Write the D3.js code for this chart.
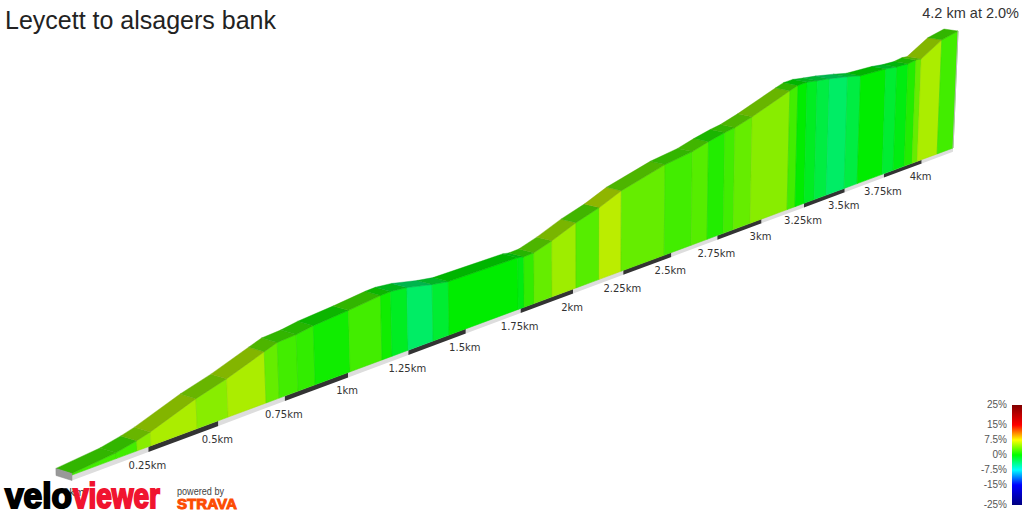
<!DOCTYPE html>
<html>
<head>
<meta charset="utf-8">
<script src="https://cdn.jsdelivr.net/npm/d3@7"></script>
<style>
  html, body { margin: 0; padding: 0; background: #fff; overflow: hidden; }
  svg { display: block; }
</style>
</head>
<body>
<div id="profile"></div>
<script>
const chartTitle = "Leycett to alsagers bank";
const chartSummary = "4.2 km at 2.0%";

// segment boundaries along the climb, km
const segmentKm = [-0.009, 0.139, 0.211, 0.259, 0.423, 0.536, 0.678, 0.728, 0.801, 0.868, 1.008, 1.139, 1.181, 1.249,
  1.356, 1.426, 1.738, 1.766, 1.813, 1.898, 2.014, 2.128, 2.238, 2.462, 2.606, 2.693, 2.782, 2.838, 2.934,
  3.149, 3.196, 3.25, 3.311, 3.385, 3.496, 3.578, 3.738, 3.81, 3.883, 3.935, 3.97, 4.105, 4.215];

// height above the start at each boundary, m
const segmentElevation = [0.8, 2.9, 5.1, 7, 15.5, 20.1, 27.3, 29.8, 30.5, 32.1, 33.8, 35.9, 36.2, 35.3,
  32.1, 30.6, 30.5, 29.8, 30.1, 33.5, 39.4, 43.8, 49.6, 56.9, 59.5, 62.5, 65, 66.1, 69.6,
  79, 80.9, 81.2, 80, 78.8, 76.3, 74.1, 73.4, 72.3, 72, 73, 72.6, 81.6, 84.4];

// gradient of each segment, %
const segmentGradient = [2.1, 2.1, 4.3, 5.4, 4.3, 5.4, 3.2, 2.1, 1.6, 0.5, 2.1, 0.5, -1.1, -3.2,
  -1.6, 0, -0.5, 1.6, 3.2, 5, 2.7, 5.9, 3.2, 2.1, 2.7, 1.1, 2.1, 3.2,
  4.3, 2.1, 0, -1.1, -2.1, -3.2, -2.1, 0, -1.6, -0.5, 1.1, 3.2, 5.4, 2.1];

const tickKm = [0, 0.25, 0.5, 0.75, 1, 1.25, 1.5, 1.75, 2, 2.25, 2.5, 2.75, 3, 3.25, 3.5, 3.75, 4];
const tickLabels = ["0km", "0.25km", "0.5km", "0.75km", "1km", "1.25km", "1.5km", "1.75km", "2km",
  "2.25km", "2.5km", "2.75km", "3km", "3.25km", "3.5km", "3.75km", "4km"];

const legendStops = [-25, -15, -7.5, 0, 7.5, 15, 25];
const legendColors = ["#000080", "#0000ff", "#00ffff", "#00ff00", "#ffff00", "#ff0000", "#800000"];

/////////////////////
// Svg and perspective
/////////////////////
const svg = d3.select("#profile")
  .append("svg")
  .attr("width", 1024)
  .attr("height", 512)
  .attr("viewBox", "0 0 1024 512");

const startKm = segmentKm[0];
const endKm = segmentKm[segmentKm.length - 1];
const perspective = 0.1075;
const depth = km => km / (1 + perspective * km);
const shrink = km => 1 / (1 + perspective * km);

const xScale = d3.scaleLinear().domain([depth(startKm), depth(endKm)]).range([72, 953]);
const yScale = d3.scaleLinear().domain([depth(startKm), depth(endKm)]).range([475, 148]);
const heightScale = d3.scaleLinear().domain([0, 84.4]).range([0, 170]);
const stripDx = d3.scaleLinear().domain([0, endKm]).range([-16, -14]);
const stripDy = d3.scaleLinear().domain([0, endKm]).range([-5, -2]);

const baseAt = km => [xScale(depth(km)), yScale(depth(km))];
const plinthAt = km => [xScale(depth(km)), yScale(depth(km)) + 5.5 * shrink(km)];

// verticals converge slightly towards the middle of the picture
const topAt = (km, elevation) => {
  const [x, y] = baseAt(km);
  const h = heightScale(elevation) * shrink(km);
  return [x + (x - 580) * h / 8700, y - h];
};
const backAt = (km, elevation) => {
  const [x, y] = topAt(km, elevation);
  return [x + stripDx(km), y + stripDy(km)];
};

const polygon = d3.line().curve(d3.curveLinearClosed);

const gradientColor = d3.scaleLinear().domain(legendStops).range(legendColors);
const shade = (gradient, factor) => {
  const c = d3.rgb(gradientColor(gradient));
  return d3.rgb(c.r * factor, c.g * factor, c.b * factor).formatHex();
};

const segments = segmentGradient.map((gradient, i) => ({
  gradient,
  km0: segmentKm[i],
  km1: segmentKm[i + 1],
  e0: segmentElevation[i],
  e1: segmentElevation[i + 1]
}));

/////////////////////
// Plinth with alternating quarter km marks
/////////////////////
const plinthEdges = d3.pairs([startKm].concat(tickKm.slice(1), endKm));
svg.append("g")
  .selectAll("path")
  .data(plinthEdges)
  .join("path")
  .attr("fill", (d, i) => i % 2 ? "#333333" : "#dddddd")
  .attr("d", ([a, b]) => polygon([baseAt(a), baseAt(b), plinthAt(b), plinthAt(a)]));

/////////////////////
// Side wall and road surface
/////////////////////
svg.append("g")
  .selectAll("path")
  .data(segments)
  .join("path")
  .attr("fill", d => shade(d.gradient, 0.93))
  .attr("stroke", d => shade(d.gradient, 0.86))
  .attr("stroke-width", 0.6)
  .attr("d", d => polygon([baseAt(d.km0), baseAt(d.km1), topAt(d.km1, d.e1), topAt(d.km0, d.e0)]));

svg.append("g")
  .selectAll("path")
  .data(segments)
  .join("path")
  .attr("fill", d => shade(d.gradient, 0.71))
  .attr("stroke", d => shade(d.gradient, 0.66))
  .attr("stroke-width", 0.4)
  .attr("d", d => polygon([topAt(d.km0, d.e0), topAt(d.km1, d.e1), backAt(d.km1, d.e1), backAt(d.km0, d.e0)]));

// grey end of the block at the start, thin edge at the far end
svg.append("path")
  .attr("fill", "#999999")
  .attr("stroke", "#8a8a8a")
  .attr("stroke-width", 0.5)
  .attr("d", polygon([
    topAt(startKm, segmentElevation[0]),
    plinthAt(startKm),
    [plinthAt(startKm)[0] + stripDx(0), plinthAt(startKm)[1] + stripDy(0)],
    backAt(startKm, segmentElevation[0])
  ]));

svg.append("line")
  .attr("x1", baseAt(endKm)[0])
  .attr("y1", baseAt(endKm)[1])
  .attr("x2", topAt(endKm, segmentElevation[segmentElevation.length - 1])[0])
  .attr("y2", topAt(endKm, segmentElevation[segmentElevation.length - 1])[1])
  .attr("stroke", "#bbbbbb")
  .attr("stroke-width", 1);

/////////////////////
// Distance labels
/////////////////////
svg.append("g")
  .selectAll("text")
  .data(tickKm)
  .join("text")
  .attr("x", d => baseAt(d)[0] - 1)
  .attr("y", d => plinthAt(d)[1] + 17)
  .attr("text-anchor", "middle")
  .attr("font-family", "DejaVu Sans")
  .attr("font-size", 10)
  .attr("fill", "#333333")
  .text((d, i) => tickLabels[i]);

/////////////////////
// Titles
/////////////////////
svg.append("text")
  .attr("x", 5)
  .attr("y", 29)
  .attr("font-family", "Liberation Sans")
  .attr("font-size", 25)
  .attr("fill", "#222222")
  .text(chartTitle);

svg.append("text")
  .attr("x", 1019)
  .attr("y", 18)
  .attr("text-anchor", "end")
  .attr("font-family", "Liberation Sans")
  .attr("font-size", 14.5)
  .attr("fill", "#333333")
  .text(chartSummary);

/////////////////////
// Gradient legend
/////////////////////
const legendScale = d3.scaleLinear().domain([-25, 25]).range([505, 405]);

const legendGradient = svg.append("defs")
  .append("linearGradient")
  .attr("id", "legend-gradient")
  .attr("x1", 0).attr("y1", 1)
  .attr("x2", 0).attr("y2", 0);

legendGradient.selectAll("stop")
  .data(legendStops)
  .join("stop")
  .attr("offset", d => (d + 25) / 50)
  .attr("stop-color", d => gradientColor(d));

svg.append("rect")
  .attr("x", 1012)
  .attr("y", legendScale(25))
  .attr("width", 10)
  .attr("height", legendScale(-25) - legendScale(25))
  .attr("fill", "url(#legend-gradient)");

svg.append("g")
  .attr("transform", "translate(1007, -1)")
  .call(d3.axisLeft(legendScale).tickValues([-25, -15, -7.5, 0, 7.5, 15, 25]).tickFormat(d => d + "%").tickSize(0).tickPadding(0))
  .call(g => g.select(".domain").remove())
  .call(g => g.selectAll("text")
    .attr("font-family", "Liberation Sans")
    .attr("font-size", 10)
    .attr("fill", "#555555"));

/////////////////////
// Logos
/////////////////////
const logo = svg.append("g").attr("font-family", "Liberation Sans").attr("font-weight", "bold");

logo.append("text")
  .attr("x", 5).attr("y", 508)
  .attr("font-size", 35)
  .attr("textLength", 67).attr("lengthAdjust", "spacingAndGlyphs")
  .attr("fill", "#000000").attr("stroke", "#000000").attr("stroke-width", 2)
  .text("velo");

logo.append("text")
  .attr("x", 73).attr("y", 508)
  .attr("font-size", 35)
  .attr("textLength", 87).attr("lengthAdjust", "spacingAndGlyphs")
  .attr("fill", "#f0142f").attr("stroke", "#f0142f").attr("stroke-width", 2)
  .text("viewer");

svg.append("text")
  .attr("x", 177).attr("y", 495)
  .attr("font-family", "Liberation Sans")
  .attr("font-size", 10)
  .attr("textLength", 47).attr("lengthAdjust", "spacingAndGlyphs")
  .attr("fill", "#444444")
  .text("powered by");

logo.append("text")
  .attr("x", 177).attr("y", 509)
  .attr("font-size", 15.5)
  .attr("textLength", 60).attr("lengthAdjust", "spacingAndGlyphs")
  .attr("fill", "#fc4c02").attr("stroke", "#fc4c02").attr("stroke-width", 1)
  .text("STRAVA");
</script>
</body>
</html>
